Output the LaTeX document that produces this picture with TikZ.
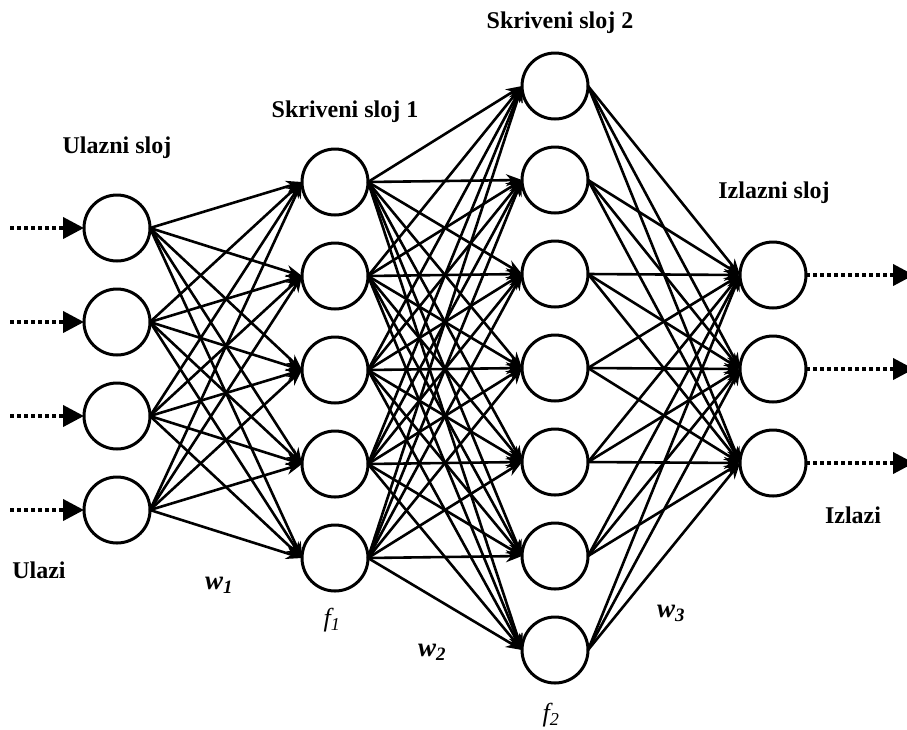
\documentclass[tikz,border=0pt]{standalone}
\usepackage{fontspec}
\setmainfont{Liberation Serif}
\usetikzlibrary
  {
    arrows.meta,  % arrow tips
    positioning,  % place nodes relative to other nodes
  }

\begin{document}
\begin{tikzpicture}
    [
      x=1pt, y=-1pt,
      neuron/.style=
        {
          circle,
          draw=black,
          line width=3pt,
          minimum size=66pt,
          inner sep=0pt,
          outer sep=0pt,
        },
      layer/.style=
        {
          font=\fontsize{24}{28}\selectfont\bfseries,
        },
      weight/.style=
        {
          font=\fontsize{27}{30}\selectfont\bfseries\itshape,
        },
      func/.style={font=\fontsize{26}{30}\selectfont\itshape},
      link/.style={-{Stealth[length=16pt,width=12pt]}, line width=2.6pt},
      signal/.style=
        {
          -{Triangle[length=21pt,width=21pt]},
          line width=4pt,
          dash pattern=on 3.5pt off 3.5pt,
        },
    ]
    \useasboundingbox (0,0) rectangle (907,729);

    % layers
    \node[neuron] (input 1)    at (117,228) {};
    \node[neuron] (hidden a 1) at (335,182) {};
    \node[neuron] (hidden b 1) at (555,86)  {};
    \node[neuron] (output 1)   at (773,275) {};
    \foreach \i [count=\j from 2] in {1,...,3}
      \node[neuron] (input \j) [below=28pt of input \i] {};
    \foreach \i [count=\j from 2] in {1,...,4}
      \node[neuron] (hidden a \j) [below=28pt of hidden a \i] {};
    \foreach \i [count=\j from 2] in {1,...,6}
      \node[neuron] (hidden b \j) [below=28pt of hidden b \i] {};
    \foreach \i [count=\j from 2] in {1,...,2}
      \node[neuron] (output \j) [below=28pt of output \i] {};

    % weights
    \foreach \i in {1,...,4}
      \foreach \j in {1,...,5}
        \draw[link] (input \i.east) -- (hidden a \j.west);
    \foreach \i in {1,...,5}
      \foreach \j in {1,...,7}
        \draw[link] (hidden a \i.east) -- (hidden b \j.west);
    \foreach \i in {1,...,7}
      \foreach \j in {1,...,3}
        \draw[link] (hidden b \i.east) -- (output \j.west);

    % inputs and outputs
    \foreach \i in {1,...,4}
      {
        \coordinate (source \i) at ([xshift=-74pt]input \i.west);
        \draw[signal] (source \i) -- (input \i.west);
      }
    \foreach \i in {1,...,3}
      {
        \coordinate (sink \i) at ([xshift=108pt]output \i.east);
        \draw[signal] (output \i.east) -- (sink \i);
      }

    % labels
    \node[layer] (input label)    at (117,148) {Ulazni sloj};
    \node[layer] (hidden a label) at (345,112) {Skriveni sloj 1};
    \node[layer] (hidden b label) at (560,23)  {Skriveni sloj 2};
    \node[layer] (output label)   at (774,193) {Izlazni sloj};
    \node[layer] (inputs label)   at (39,570)  {Ulazi};
    \node[layer] (outputs label)  at (853,515) {Izlazi};
    \node[weight] (w1) at (219,585) {w\textsubscript{1}};
    \node[weight] (w2) at (432,652) {w\textsubscript{2}};
    \node[weight] (w3) at (671,613) {w\textsubscript{3}};
    \node[func]   (f1) at (332,620) {f\textsubscript{1}};
    \node[func]   (f2) at (551,715) {f\textsubscript{2}};
  \end{tikzpicture}
\end{document}
